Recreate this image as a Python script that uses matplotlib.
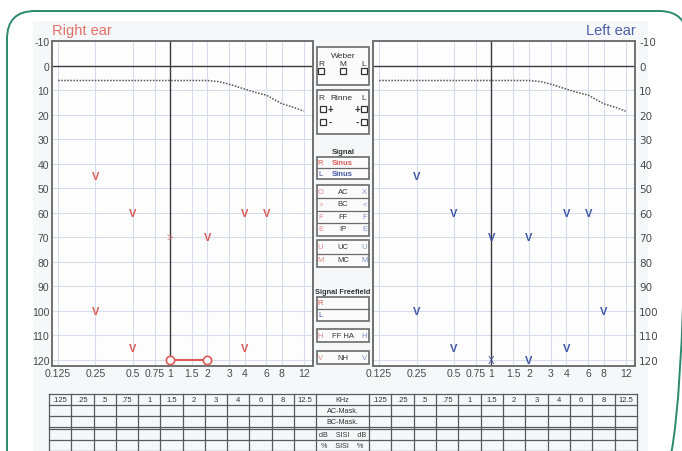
import matplotlib
matplotlib.use("Agg")
import matplotlib.pyplot as plt
from matplotlib.patches import Rectangle, FancyBboxPatch

# ---------------- data ----------------
freq_ticks = [0.125, 0.25, 0.5, 0.75, 1, 1.5, 2, 3, 4, 6, 8, 12]
freq_tick_labels = ['0.125', '0.25', '0.5', '0.75', '1', '1.5', '2', '3', '4', '6', '8', '12']
db_ticks = list(range(-10, 121, 10))

normal_freq = [0.125, 0.25, 0.5, 1, 2, 2.5, 3, 4, 5, 6, 8, 10, 12]
normal_db = [6, 6, 6, 6, 6, 6.5, 7.5, 9.5, 11, 12, 15.5, 17, 18.5]

right_v_freq = [0.25, 0.25, 0.5, 0.5, 2, 4, 4, 6]
right_v_db = [45, 100, 60, 115, 70, 60, 115, 60]
right_bc_freq = [1]
right_bc_db = [70]
right_ac_freq = [1, 2]
right_ac_db = [120, 120]

left_v_freq = [0.25, 0.25, 0.5, 0.5, 1, 2, 2, 4, 4, 6, 8]
left_v_db = [45, 100, 60, 115, 70, 70, 120, 60, 115, 60, 100]
left_ac_freq = [1]
left_ac_db = [120]

table_freqs = ['.125', '.25', '.5', '.75', '1', '1.5', '2', '3', '4', '6', '8', '12.5']
table_mid = ['KHz', 'AC-Mask.', 'BC-Mask.', 'dB    SISI    dB', '%    SISI    %']

# ---------------- style ----------------
RED = '#dc5a55'
BLUE = '#3f56a6'
GRID = '#d6dcea'
DARK = '#3a3a3a'
SPINE = '#707070'
TXT = '#4a4a4a'
NARROW = ['Liberation Sans Narrow', 'Liberation Sans', 'DejaVu Sans']

W, H = 682, 452
fig = plt.figure(figsize=(W / 100, H / 100), dpi=100)
fig.patch.set_facecolor('white')

ov = fig.add_axes([0, 0, 1, 1])
ov.set_xlim(0, W)
ov.set_ylim(H, 0)
ov.axis('off')
ov.set_zorder(0)

# frame + scanned background
ov.add_patch(Rectangle((33, 22), 615, 440, facecolor='#f6f7f9', edgecolor='none'))
ov.add_patch(FancyBboxPatch((7, 12), 680, 470, boxstyle='round,pad=0,rounding_size=28',
                            facecolor='none', edgecolor='#2b8a6c', linewidth=1.4))

XLIM = (0.1115, 14.26)
YLIM = (122.4, -10)


def make_ax(x0, x1, y0, y1):
    ax = fig.add_axes([x0 / W, 1 - y1 / H, (x1 - x0) / W, (y1 - y0) / H])
    ax.set_zorder(1)
    ax.set_facecolor('#fdfdfe')
    ax.set_xscale('log', base=2)
    ax.set_xlim(*XLIM)
    ax.set_ylim(*YLIM)
    ax.set_xticks(freq_ticks)
    ax.set_xticklabels(freq_tick_labels)
    ax.minorticks_off()
    ax.set_yticks(db_ticks)
    ax.set_yticklabels([str(v) for v in db_ticks])
    ax.tick_params(length=0, labelsize=7.5, colors=TXT, pad=2)
    for lab in ax.get_xticklabels() + ax.get_yticklabels():
        lab.set_fontfamily(NARROW)
    for sp in ax.spines.values():
        sp.set_color(SPINE)
        sp.set_linewidth(1.4)
    for f in freq_ticks:
        if f == 1:
            ax.axvline(f, color=DARK, lw=1.0, zorder=1)
        else:
            ax.axvline(f, color=GRID, lw=0.8, zorder=0.5)
    for d in db_ticks:
        if d == 0:
            ax.axhline(d, color=DARK, lw=1.0, zorder=1)
        else:
            ax.axhline(d, color=GRID, lw=0.8, zorder=0.5)
    ax.plot(normal_freq, normal_db, color='#555555', lw=1.1, ls=(0, (1, 1)), zorder=2)
    return ax


axR = make_ax(52, 313, 42.3, 366.7)
axL = make_ax(373, 635, 42.3, 366.7)
axL.yaxis.tick_right()
axL.tick_params(axis='y', pad=3)

# right ear marks
for f, d in zip(right_v_freq, right_v_db):
    axR.text(f, d, 'V', color=RED, fontsize=8, ha='center', va='center',
             family=NARROW, fontweight='bold', zorder=4)
for f, d in zip(right_bc_freq, right_bc_db):
    axR.text(f, d, '>', color='#e07a75', fontsize=8, ha='center', va='center',
             family=NARROW, zorder=4)
axR.plot(right_ac_freq, right_ac_db, color=RED, lw=1.5, marker='o', ms=6,
         mfc='white', mec=RED, mew=1.2, zorder=4, clip_on=False)

# left ear marks
for f, d in zip(left_v_freq, left_v_db):
    axL.text(f, d, 'V', color=BLUE, fontsize=8, ha='center', va='center',
             family=NARROW, fontweight='bold', zorder=4)
for f, d in zip(left_ac_freq, left_ac_db):
    axL.text(f, d, 'X', color=BLUE, fontsize=7, ha='center', va='center',
             family=NARROW, zorder=4)

# titles
ov.text(52, 31, 'Right ear', color='#e07068', fontsize=10.5, ha='left', va='center',
        family=['Liberation Sans', 'DejaVu Sans'])
ov.text(636, 31, 'Left ear', color='#4d5fa8', fontsize=10.5, ha='right', va='center',
        family=['Liberation Sans', 'DejaVu Sans'])

# ---------------- middle panel ----------------
BX0, BX1 = 317, 369
BCOL = '#6a6a6a'


def box(y0, y1, dividers=()):
    ov.add_patch(Rectangle((BX0, y0), BX1 - BX0, y1 - y0, facecolor='#fbfbfb',
                           edgecolor=BCOL, lw=1.2))
    for yd in dividers:
        ov.plot([BX0, BX1], [yd, yd], color=BCOL, lw=0.9)


def t(x, y, s, c='#333333', fs=5.5, bold=False, ha='center'):
    ov.text(x, y, s, color=c, fontsize=fs, ha=ha, va='center', family=NARROW,
            fontweight='bold' if bold else 'normal')


def sq(xc, yc, s=6):
    ov.add_patch(Rectangle((xc - s / 2, yc - s / 2), s, s, facecolor='white',
                           edgecolor='#333333', lw=0.9))


# Weber
box(48, 86)
t(343, 56, 'Weber', fs=6)
for xc, s in zip([321, 343, 364], ['R', 'M', 'L']):
    t(xc, 65, s, fs=6)
    sq(xc, 72)

# Rinne
box(91, 135)
t(321, 99, 'R', fs=6)
t(341.5, 99, 'Rinne', fs=6)
t(364, 99, 'L', fs=6)
sq(323, 110)
t(330, 110, '+', fs=7, bold=True)
t(357, 110, '+', fs=7, bold=True)
sq(364, 110)
sq(323, 123)
t(330, 123, '-', fs=7, bold=True)
t(357, 123, '-', fs=7, bold=True)
sq(364, 123)

# Signal
t(343, 152.5, 'Signal', fs=5.5, bold=True)
box(158, 180, [169])
t(320.5, 163.5, 'R', c=RED, fs=5.5)
t(342, 163.5, 'Sinus', c=RED, fs=5.5, bold=True)
t(320.5, 174.5, 'L', c=BLUE, fs=5.5)
t(342, 174.5, 'Sinus', c=BLUE, fs=5.5, bold=True)

box(186, 237, [199, 211.5, 224])
rows2 = [('O', 'AC', 'X'), ('>', 'BC', '<'), ('F', 'FF', 'F'), ('E', 'IP', 'E')]
for i, (a, b, c) in enumerate(rows2):
    yc = 192.5 + i * 12.5
    t(320.5, yc, a, c='#e28a85', fs=5.5)
    t(343, yc, b, fs=5.5)
    t(364.5, yc, c, c='#7f8fc8', fs=5.5)

box(241, 268, [254.5])
for i, (a, b, c) in enumerate([('U', 'UC', 'U'), ('M', 'MC', 'M')]):
    yc = 248 + i * 13
    t(320.5, yc, a, c='#e28a85', fs=5.5)
    t(343, yc, b, fs=5.5)
    t(364.5, yc, c, c='#7f8fc8', fs=5.5)

t(343, 293, 'Signal Freefield', fs=5.3, bold=True)
box(298, 322, [310])
t(320.5, 304, 'R', c=RED, fs=5.5)
t(320.5, 316, 'L', c=BLUE, fs=5.5)

box(330, 343)
t(320.5, 336.5, 'H', c='#e28a85', fs=5.5)
t(343, 336.5, 'FF HA', fs=5.5)
t(364.5, 336.5, 'H', c='#7f8fc8', fs=5.5)

box(352, 365)
t(320.5, 358.5, 'V', c='#e28a85', fs=5.5)
t(343, 358.5, 'NH', fs=5.5)
t(364.5, 358.5, 'V', c='#7f8fc8', fs=5.5)

# ---------------- bottom table ----------------
TCOL = '#5a5a5a'
L0, L1 = 49, 316
R0, R1 = 369, 637
row_y = [394.5, 406, 417, 428, 430, 441, 452]
for y in row_y:
    ov.plot([L0, R1], [y, y], color=TCOL, lw=0.9)
lw_ = (L1 - L0) / 12
rw_ = (R1 - R0) / 12
for i in range(13):
    ov.plot([L0 + i * lw_] * 2, [394.5, 452], color=TCOL, lw=0.9)
    ov.plot([R0 + i * rw_] * 2, [394.5, 452], color=TCOL, lw=0.9)
for i, s in enumerate(table_freqs):
    t(L0 + (i + 0.5) * lw_, 400.5, s, fs=5.5)
    t(R0 + (i + 0.5) * rw_, 400.5, s, fs=5.5)
mid_y = [400.5, 411.5, 422.5, 435.5, 446.5]
for y, s in zip(mid_y, table_mid):
    t((L1 + R0) / 2, y, s, fs=5.2)

fig.savefig('out.png', dpi=100, facecolor='white')
